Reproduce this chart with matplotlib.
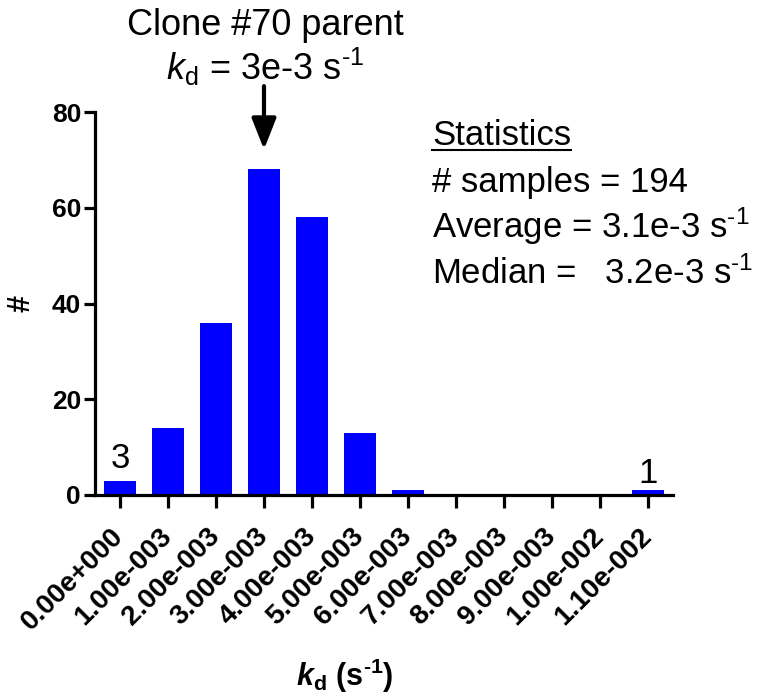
import numpy as np
import matplotlib
matplotlib.use("Agg")
import matplotlib.pyplot as plt
from matplotlib.transforms import ScaledTranslation

plt.rcParams['font.family'] = ['Liberation Sans', 'DejaVu Sans']
plt.rcParams['mathtext.fontset'] = 'custom'
plt.rcParams['mathtext.rm'] = 'Liberation Sans'
plt.rcParams['mathtext.it'] = 'Liberation Sans:italic'
plt.rcParams['mathtext.bf'] = 'Liberation Sans:bold'
plt.rcParams['mathtext.bfit'] = 'Liberation Sans:italic:bold'

# histogram of k_d values (bin centres)
bin_labels = ['0.00e+000', '1.00e-003', '2.00e-003', '3.00e-003', '4.00e-003',
              '5.00e-003', '6.00e-003', '7.00e-003', '8.00e-003', '9.00e-003',
              '1.00e-002', '1.10e-002']
counts = [3, 14, 36, 68, 58, 13, 1, 0, 0, 0, 0, 1]
labelled_bins = [0, 11]          # bins with a count written above them
parent_bin = 3                   # clone #70 parent, k_d = 3e-3
HY = '\u2010'                    # plain hyphen inside mathtext superscripts
stats_lines = ['# samples = 194',
               r'Average = 3.1e-3 s$^{\mathrm{' + HY + '1}}$',
               r'Median =   3.2e-3 s$^{\mathrm{' + HY + '1}}$']

W, H = 768, 695
fig = plt.figure(figsize=(W / 100, H / 100), dpi=100)
ax = fig.add_axes([95 / W, 1 - 495 / H, (673 - 95) / W, (495 - 112) / H])

x = np.arange(len(counts))
ax.bar(x, counts, width=0.667, color='#0000FF', zorder=2)
ax.set_xlim(-0.52, len(counts) - 1 + 0.52)
ax.set_ylim(0, 80)
ax.set_yticks([0, 20, 40, 60, 80])
ax.set_xticks(x)
ax.set_xticklabels(bin_labels, rotation=45, ha='right', va='center',
                   rotation_mode='anchor', fontweight='bold', fontsize=20)
shift = ScaledTranslation(-3 / 100, 0, fig.dpi_scale_trans)
for lab in ax.get_xticklabels():
    lab.set_transform(lab.get_transform() + shift)
for lab in ax.get_yticklabels():
    lab.set_fontweight('bold')
    lab.set_fontsize(19)

for s in ['top', 'right']:
    ax.spines[s].set_visible(False)
for s in ['left', 'bottom']:
    ax.spines[s].set_linewidth(2.3)
ax.tick_params(axis='y', direction='out', length=8, width=2.3, pad=2)
ax.tick_params(axis='x', direction='out', length=9, width=2.3, pad=18)

# counts written over the end bins
for i, off in zip(labelled_bins, [9, 5]):
    ax.annotate(str(counts[i]), (x[i], counts[i]), xytext=(0, off),
                textcoords='offset points', ha='center', va='baseline',
                fontsize=25)

# arrow marking the parent clone
ax.annotate('', xy=(parent_bin, 71.6), xytext=(parent_bin, 86),
            arrowprops=dict(arrowstyle='-|>,head_length=1.9,head_width=0.75',
                            lw=3, color='black'),
            annotation_clip=False)

fig.text(265 / W, 1 - 35 / H, 'Clone #70 parent', ha='center',
         va='baseline', fontsize=26)
fig.text(265 / W, 1 - 80 / H,
         r'$\mathit{k}_{\mathrm{d}}$ = 3e-3 s$^{\mathrm{' + HY + '1}}$',
         ha='center', va='baseline', fontsize=26)

# statistics box
t = fig.text(432 / W, 1 - 145 / H, 'Statistics', ha='left', va='baseline',
             fontsize=25)
fig.canvas.draw()
bb = t.get_window_extent().transformed(fig.transFigure.inverted())
fig.add_artist(plt.Line2D([bb.x0, bb.x1], [1 - 150 / H, 1 - 150 / H],
                          transform=fig.transFigure, color='black', lw=1.5))
for k, line in enumerate(stats_lines):
    fig.text(432 / W, 1 - (192 + 46 * k) / H, line, ha='left',
             va='baseline', fontsize=25)

fig.text(22 / W, 1 - 303 / H, '#', rotation=90, ha='center', va='center',
         fontsize=22, fontweight='bold')
fig.text(345 / W, 1 - 686 / H,
         r'$\mathbfit{k}_{\mathbf{d}}$ (s$^{\mathbf{' + HY + '1}}$)',
         ha='center', va='baseline', fontsize=22, fontweight='bold')

fig.savefig('out.png', dpi=100)
